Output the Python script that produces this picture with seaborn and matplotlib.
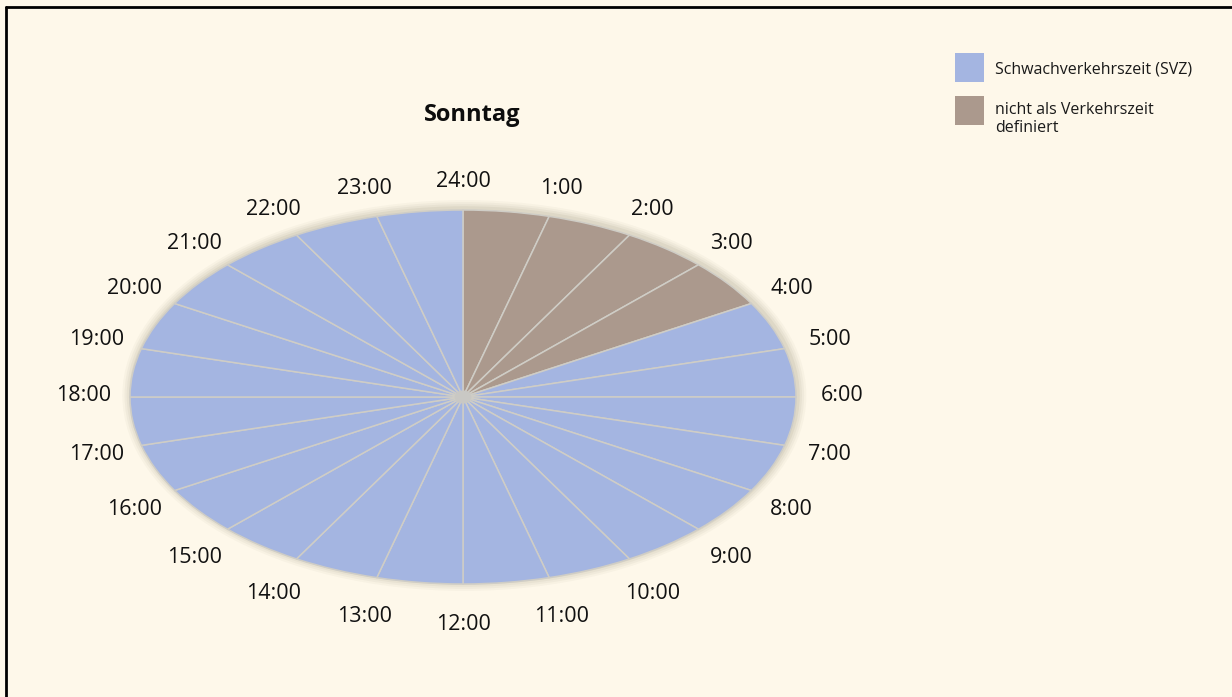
import matplotlib
matplotlib.use("Agg")
import matplotlib.pyplot as plt
from matplotlib.patches import Ellipse, Rectangle
import numpy as np
import seaborn as sns

# hour boundary labels, clockwise from the top
hour_labels = ["24:00", "1:00", "2:00", "3:00", "4:00", "5:00", "6:00", "7:00",
               "8:00", "9:00", "10:00", "11:00", "12:00", "13:00", "14:00", "15:00",
               "16:00", "17:00", "18:00", "19:00", "20:00", "21:00", "22:00", "23:00"]
# category of each hour slot (0-1, 1-2, ..., 23-24)
hour_category = ["ndef"] * 4 + ["svz"] * 20
slot_values = [1] * 24

categories = ["svz", "ndef"]
category_names = ["Schwachverkehrszeit (SVZ)", "nicht als Verkehrszeit\ndefiniert"]
category_colors = {"svz": "#a4b5e1", "ndef": "#ab998d"}

title = "Sonntag"

sns.set_theme(style="white")
plt.rcParams['font.family'] = ['Open Sans', 'DejaVu Sans']

bg = "#fef8ea"
W, H = 1232, 697
fig = plt.figure(figsize=(W / 100, H / 100), dpi=100, facecolor=bg)

# ellipse bounds in pixels
cx, cy, rx, ry = 463, 397, 333, 187
ax = fig.add_axes([(cx - rx) / W, (H - cy - ry) / H, 2 * rx / W, 2 * ry / H])
ax.set_facecolor("none")

# soft shadow around the ellipse
for i, a in enumerate([0.04, 0.05, 0.06, 0.08]):
    grow = 0.045 - i * 0.011
    ax.add_patch(Ellipse((0.004, 0.008), 2 + 2 * grow * 0.6, 2 + 2 * grow,
                         facecolor="#6b6448", edgecolor="none", alpha=a,
                         zorder=0, clip_on=False))

wedges, _ = ax.pie(slot_values, colors=[category_colors[c] for c in hour_category],
                   startangle=90, counterclock=False, radius=1,
                   wedgeprops=dict(edgecolor="#cfcdc6", linewidth=1.1))
for w in wedges:
    w.set_zorder(2)
    w.set_clip_on(False)
ax.set_aspect("auto")
ax.set_xlim(-1, 1)
ax.set_ylim(-1, 1)
ax.axis("off")

# small grey blob where the lines meet
ax.add_patch(Ellipse((0, 0), 0.05, 0.07, facecolor="#c9c8c4", edgecolor="none", zorder=3))

for i, lab in enumerate(hour_labels):
    ang = np.deg2rad(90 - 15 * i)
    s = np.sin(ang)
    r_y = 1.145 if s >= 0 else 1.225
    ax.text(1.14 * np.cos(ang), r_y * s + 0.01, lab,
            ha="center", va="center", fontsize=15.5, color="#111111", clip_on=False)

fig.text(472 / W, 1 - 115 / H, title, ha="center", va="center",
         fontsize=17, fontweight="bold", color="#0d0d0d")

# legend
for k, (cat, name) in enumerate(zip(categories, category_names)):
    y0 = 53 + k * 43
    fig.patches.append(Rectangle((955 / W, 1 - (y0 + 29) / H), 29 / W, 29 / H,
                                 transform=fig.transFigure, facecolor=category_colors[cat],
                                 edgecolor="none"))
    fig.text(995 / W, 1 - (y0 + 16) / H if k == 0 else 1 - (y0 + 6) / H, name,
             ha="left", va="center" if k == 0 else "top", fontsize=11.5,
             color="#1a1a1a", linespacing=1.2)

# frame lines on the left and top
fig.lines.append(plt.Line2D([6 / W, 6 / W], [0, 1 - 7 / H], transform=fig.transFigure,
                            color="black", linewidth=2))
fig.lines.append(plt.Line2D([6 / W, 1], [1 - 7 / H, 1 - 7 / H], transform=fig.transFigure,
                            color="black", linewidth=2))

fig.savefig("out.png", dpi=100, facecolor=bg)
